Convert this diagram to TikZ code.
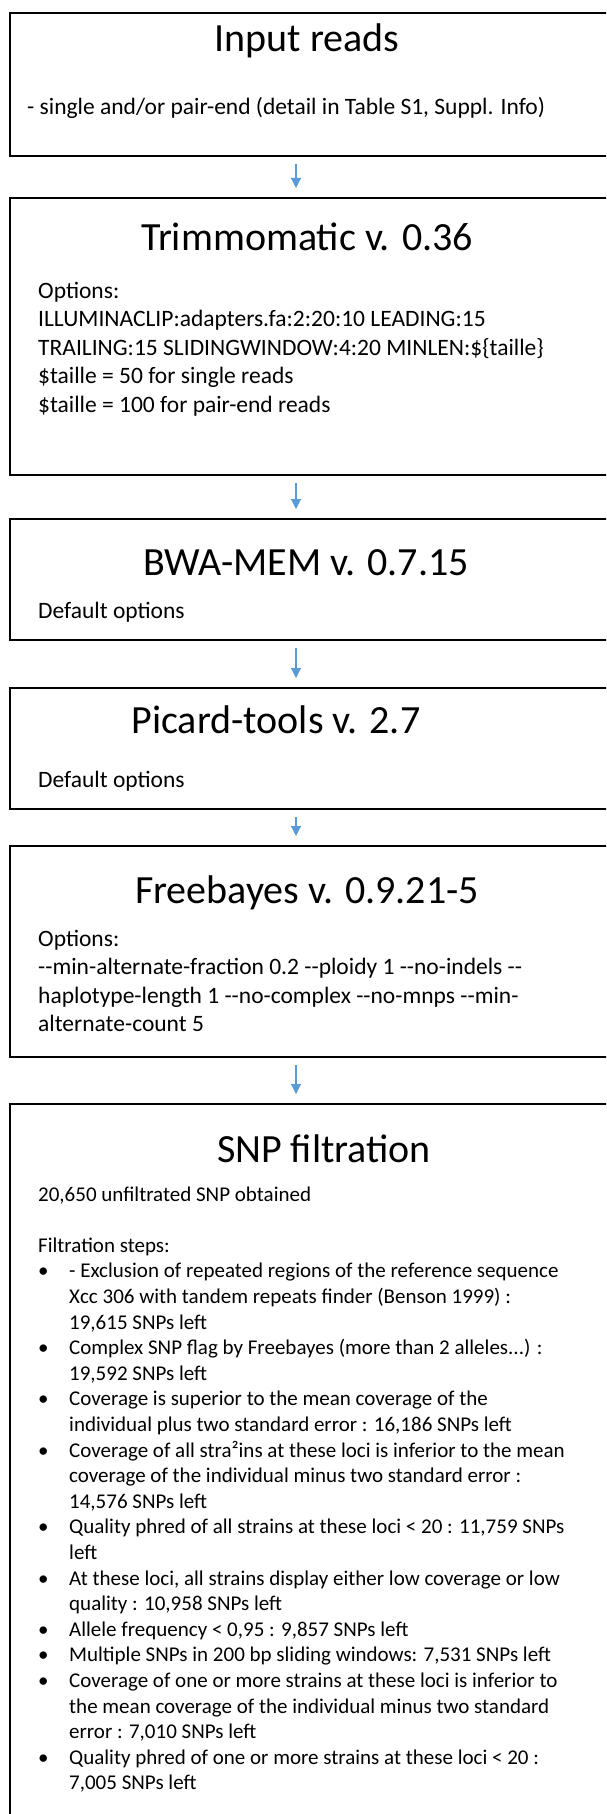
\documentclass[tikz,border=0pt]{standalone}
\usepackage{fontspec}
\setmainfont{Carlito}[Ligatures=TeXOff]
\usetikzlibrary{arrows.meta,positioning,calc}

\definecolor{flowblue}{HTML}{5B9BD5}

\tikzset{
  stepbox/.style={draw=black, line width=2pt, minimum width=611pt, anchor=north west, inner sep=0pt},
  steptitle/.style={font=\fontsize{40}{48}\selectfont, inner sep=0pt, anchor=base},
  stepbody/.style={font=\fontsize{23.5}{28.5}\selectfont, inner sep=0pt, anchor=base west},
  snpbody/.style={font=\fontsize{21}{25.6}\selectfont, inner sep=0pt, anchor=base west},
  flow/.style={-{Triangle[width=10pt,length=10pt]}, draw=flowblue, fill=flowblue, line width=1.2pt, shorten <=7pt, shorten >=9pt}
}

\begin{document}
\begin{tikzpicture}[x=1pt, y=1pt]
  \clip (0,0) rectangle (606,-1814);

  % pipeline boxes
  \node[stepbox, minimum height=143pt] (reads) at (9,-12) {};
  \node[stepbox, minimum height=277pt] (trim)  at (9,-197) {};
  \node[stepbox, minimum height=121pt] (bwa)   at (9,-518) {};
  \node[stepbox, minimum height=121pt] (picard) at (9,-687) {};
  \node[stepbox, minimum height=211pt] (freeb) at (9,-845) {};
  \node[stepbox, minimum height=740pt] (snp)   at (9,-1103) {};

  % titles
  \node[steptitle] (readsT)  at (307,-52) {Input reads};
  \node[steptitle] (trimT)   at (307,-250) {Trimmomatic v. 0.36};
  \node[steptitle] (bwaT)    at (306,-575) {BWA-MEM v. 0.7.15};
  \node[steptitle] (picardT) at (276,-733) {Picard-tools v. 2.7};
  \node[steptitle] (freebT)  at (307,-903) {Freebayes v. 0.9.21-5};
  \node[steptitle] (snpT)    at (324,-1162) {SNP filtration};

  % contents
  \node[stepbody] (readsB) at (27,-115) {- single and/or pair-end (detail in Table S1, Suppl. Info)};
  \node[stepbody] (trimB) at (38,-298) {\begin{tabular}[t]{@{}l@{}}
    Options:\\
    ILLUMINACLIP:adapters.fa:2:20:10 LEADING:15\\
    TRAILING:15 SLIDINGWINDOW:4:20 MINLEN:\$\{taille\}\\
    \$taille = 50 for single reads\\
    \$taille = 100 for pair-end reads
  \end{tabular}};
  \node[stepbody] (bwaB) at (38,-618) {Default options};
  \node[stepbody] (picardB) at (38,-787) {Default options};
  \node[stepbody] (freebB) at (38,-946) {\begin{tabular}[t]{@{}l@{}}
    Options:\\
    --min-alternate-fraction 0.2 --ploidy 1 --no-indels --\\
    haplotype-length 1 --no-complex --no-mnps --min-\\
    alternate-count 5
  \end{tabular}};
  \node[snpbody] (snpB) at (38,-1201) {\begin{tabular}[t]{@{}p{31pt}@{}l@{}}
    \multicolumn{2}{@{}l}{20,650 unfiltrated SNP obtained}\\[25.6pt]
    \multicolumn{2}{@{}l}{Filtration steps:}\\
    \textbullet & - Exclusion of repeated regions of the reference sequence\\
    & Xcc 306 with tandem repeats finder (Benson 1999) :\\
    & 19,615 SNPs left\\
    \textbullet & Complex SNP flag by Freebayes (more than 2 alleles...) :\\
    & 19,592 SNPs left\\
    \textbullet & Coverage is superior to the mean coverage of the\\
    & individual plus two standard error : 16,186 SNPs left\\
    \textbullet & Coverage of all stra²ins at these loci is inferior to the mean\\
    & coverage of the individual minus two standard error :\\
    & 14,576 SNPs left\\
    \textbullet & Quality phred of all strains at these loci < 20 : 11,759 SNPs\\
    & left\\
    \textbullet & At these loci, all strains display either low coverage or low\\
    & quality : 10,958 SNPs left\\
    \textbullet & Allele frequency < 0,95 : 9,857 SNPs left\\
    \textbullet & Multiple SNPs in 200 bp sliding windows: 7,531 SNPs left\\
    \textbullet & Coverage of one or more strains at these loci is inferior to\\
    & the mean coverage of the individual minus two standard\\
    & error : 7,010 SNPs left\\
    \textbullet & Quality phred of one or more strains at these loci < 20 :\\
    & 7,005 SNPs left
  \end{tabular}};

  % arrows between steps
  \draw[flow] ([xshift=-19.5pt]reads.south) -- ([xshift=-19.5pt]trim.north);
  \draw[flow] ([xshift=-19.5pt]trim.south) -- ([xshift=-19.5pt]bwa.north);
  \draw[flow] ([xshift=-19.5pt]bwa.south) -- ([xshift=-19.5pt]picard.north);
  \draw[flow] ([xshift=-19.5pt]picard.south) -- ([xshift=-19.5pt]freeb.north);
  \draw[flow] ([xshift=-19.5pt]freeb.south) -- ([xshift=-19.5pt]snp.north);
\end{tikzpicture}
\end{document}
